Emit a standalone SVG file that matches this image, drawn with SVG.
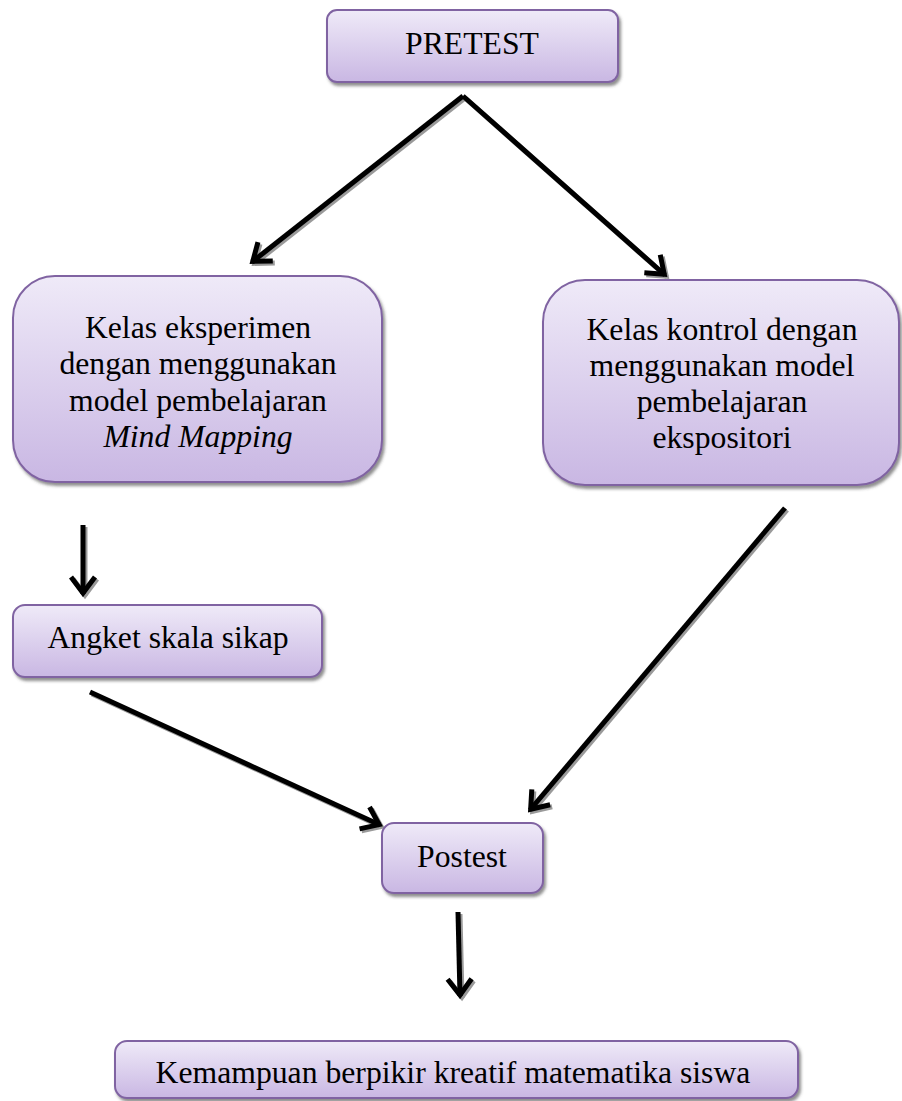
<svg xmlns="http://www.w3.org/2000/svg" width="902" height="1101" viewBox="0 0 902 1101">
<style>
.box{fill:url(#g);stroke:#8064a2;stroke-width:2;filter:url(#sh)}
.t{font-family:'Liberation Serif','Times New Roman',Tinos,'DejaVu Serif',serif;font-size:31.7px;fill:#000;text-anchor:middle}
.a{fill:none;stroke:#000;stroke-width:5;marker-end:url(#mk)}
.as{fill:none;stroke:#9a9a9a;stroke-width:5;marker-end:url(#mks)}
</style>
<defs>
<linearGradient id="g" x1="0" y1="0" x2="0" y2="1">
<stop offset="0" stop-color="#efeaf8"/>
<stop offset="1" stop-color="#c9b7e3"/>
</linearGradient>
<filter id="sh" x="-10%" y="-10%" width="120%" height="130%">
<feDropShadow dx="2" dy="3" stdDeviation="1.5" flood-color="#444" flood-opacity="0.6"/>
</filter>
<marker id="mk" markerUnits="userSpaceOnUse" viewBox="-30 -20 40 40" markerWidth="40" markerHeight="40" refX="0" refY="0" orient="auto">
<path d="M-17,-12 L-1,0 L-17,12" fill="none" stroke="#000" stroke-width="5"/>
</marker>
<marker id="mks" markerUnits="userSpaceOnUse" viewBox="-30 -20 40 40" markerWidth="40" markerHeight="40" refX="0" refY="0" orient="auto">
<path d="M-17,-12 L-1,0 L-17,12" fill="none" stroke="#9a9a9a" stroke-width="5"/>
</marker>
</defs>
<g id="connectors">
<g transform="translate(2,2)">
<path class="as" d="M463,96 L252,262"/>
<path class="as" d="M463,96 L665,275"/>
<path class="as" d="M83,525 L83,594"/>
<path class="as" d="M90,692 L380,825"/>
<path class="as" d="M785,508 L530,810"/>
<path class="as" d="M458,912 L460,996"/>
</g>
<path class="a" d="M463,96 L252,262"/>
<path class="a" d="M463,96 L665,275"/>
<path class="a" d="M83,525 L83,594"/>
<path class="a" d="M90,692 L380,825"/>
<path class="a" d="M785,508 L530,810"/>
<path class="a" d="M458,912 L460,996"/>
</g>
<g id="pretest">
<rect class="box" x="327" y="10" width="291" height="72" rx="10"/>
<text class="t" x="472" y="54">PRETEST</text>
</g>
<g id="eksperimen">
<rect class="box" x="13" y="276" width="369" height="206" rx="42"/>
<text class="t" x="198" y="338">Kelas eksperimen</text>
<text class="t" x="198" y="374">dengan menggunakan</text>
<text class="t" x="198" y="411">model pembelajaran</text>
<text class="t" x="198" y="447" font-style="italic">Mind Mapping</text>
</g>
<g id="kontrol">
<rect class="box" x="543" y="280" width="356" height="205" rx="42"/>
<text class="t" x="722" y="340">Kelas kontrol dengan</text>
<text class="t" x="722" y="376">menggunakan model</text>
<text class="t" x="722" y="412">pembelajaran</text>
<text class="t" x="722" y="448">ekspositori</text>
</g>
<g id="angket">
<rect class="box" x="13" y="605" width="309" height="72" rx="12"/>
<text class="t" x="168" y="648">Angket skala sikap</text>
</g>
<g id="postest">
<rect class="box" x="382" y="823" width="161" height="70" rx="12"/>
<text class="t" x="462" y="867">Postest</text>
</g>
<g id="kemampuan">
<rect class="box" x="115" y="1041" width="683" height="57" rx="12"/>
<text class="t" x="453" y="1083">Kemampuan berpikir kreatif matematika siswa</text>
</g>
</svg>
